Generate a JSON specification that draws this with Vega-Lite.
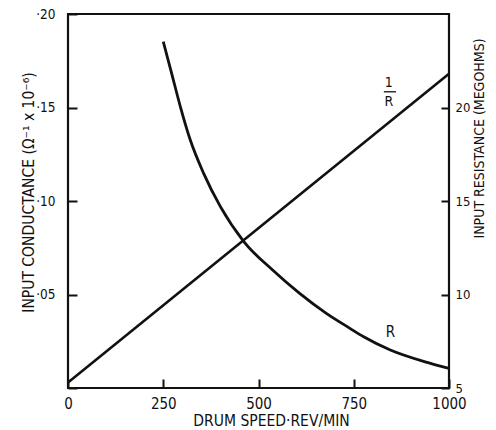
{
  "$schema": "https://vega.github.io/schema/vega-lite/v6.json",
  "width": 381,
  "height": 374,
  "autosize": {"type": "none"},
  "padding": {"left": 68, "top": 14, "right": 47, "bottom": 42},
  "background": "white",
  "config": {
    "view": {"stroke": "#111", "strokeWidth": 2.2},
    "font": "Liberation Sans Narrow, DejaVu Sans Condensed, sans-serif",
    "axis": {
      "grid": false,
      "domain": false,
      "labelColor": "#111",
      "titleColor": "#111",
      "labelFont": "Liberation Sans Narrow, DejaVu Sans Condensed, sans-serif",
      "titleFont": "Liberation Sans Narrow, DejaVu Sans Condensed, sans-serif",
      "labelFontSize": 14,
      "titleFontSize": 14,
      "titleFontWeight": "normal",
      "labelFlush": false,
      "labelOverlap": false
    }
  },
  "datasets": {
    "conductance": [
      {"speed": 0, "g": 0.003},
      {"speed": 1000, "g": 0.168}
    ],
    "resistance": [
      {"speed": 250, "r": 23.52},
      {"speed": 272, "r": 21.83},
      {"speed": 295, "r": 20.04},
      {"speed": 321, "r": 18.26},
      {"speed": 356, "r": 16.48},
      {"speed": 400, "r": 14.7},
      {"speed": 462, "r": 12.82},
      {"speed": 537, "r": 11.31},
      {"speed": 608, "r": 10.06},
      {"speed": 678, "r": 8.99},
      {"speed": 740, "r": 8.19},
      {"speed": 776, "r": 7.74},
      {"speed": 846, "r": 7.03},
      {"speed": 935, "r": 6.41},
      {"speed": 1000, "r": 6.05}
    ],
    "gLabels": [
      {"speed": 842, "g": 0.1631, "t": "1"},
      {"speed": 842, "g": 0.1532, "t": "R"}
    ],
    "gBar": [
      {"speed": 829, "speed2": 861, "g": 0.1584}
    ],
    "rLabels": [
      {"speed": 846, "r": 8.01, "t": "R"}
    ]
  },
  "encoding": {
    "x": {
      "field": "speed",
      "type": "quantitative",
      "scale": {"domain": [0, 1000], "nice": false, "zero": false},
      "axis": {
        "values": [0, 250, 500, 750, 1000],
        "format": "d",
        "title": "DRUM SPEED·REV/MIN",
        "ticks": true,
        "tickSize": 9,
        "offset": -9,
        "tickColor": "#111",
        "tickWidth": 2,
        "zindex": 1,
        "labelFontSize": 15,
        "titleFontSize": 15.5,
        "labelPadding": 8,
        "titlePadding": 2,
        "titleX": 203,
        "encode": {"labels": {"update": {"dx": {"signal": "datum.value == 0 ? -10 : 0"}}}}
      }
    }
  },
  "layer": [
    {
      "encoding": {
        "y": {
          "field": "g",
          "type": "quantitative",
          "scale": {"domain": [0, 0.2], "nice": false, "zero": false},
          "axis": {
            "orient": "left",
            "values": [0, 0.05, 0.1, 0.15, 0.2],
            "labelExpr": "datum.value == 0 ? '' : replace(format(datum.value, '.2f'), '0.', '·')",
            "title": "INPUT CONDUCTANCE (Ω⁻¹ x 10⁻⁶)",
            "ticks": true,
            "tickSize": 9,
            "offset": -9,
            "tickColor": "#111",
            "tickWidth": 2,
            "zindex": 1,
            "labelFontSize": 13.5,
            "labelPadding": 13,
            "titleFontSize": 15.5,
            "titlePadding": -1,
            "titleY": 178
          }
        }
      },
      "layer": [
        {
          "data": {"name": "conductance"},
          "mark": {"type": "line", "color": "#111", "strokeWidth": 2.6}
        },
        {
          "data": {"name": "gLabels"},
          "mark": {"type": "text", "color": "#111", "fontSize": 14, "baseline": "middle", "align": "center", "font": "Liberation Sans Narrow, DejaVu Sans Condensed, sans-serif"},
          "encoding": {"text": {"field": "t"}}
        },
        {
          "data": {"name": "gBar"},
          "mark": {"type": "rule", "color": "#111", "strokeWidth": 1.3},
          "encoding": {"x2": {"field": "speed2"}}
        }
      ]
    },
    {
      "encoding": {
        "y": {
          "field": "r",
          "type": "quantitative",
          "scale": {"domain": [5, 25], "nice": false, "zero": false},
          "axis": {
            "orient": "right",
            "values": [5, 10, 15, 20],
            "title": "INPUT RESISTANCE (MEGOHMS)",
            "ticks": true,
            "tickSize": 8,
            "offset": -8,
            "tickColor": "#111",
            "tickWidth": 2,
            "zindex": 1,
            "titleAngle": 270,
            "titleBaseline": "top",
            "labelFontSize": 13,
            "labelPadding": 6,
            "titleFontSize": 14,
            "titlePadding": 3,
            "titleY": 124
          }
        }
      },
      "layer": [
        {
          "data": {"name": "resistance"},
          "mark": {"type": "line", "color": "#111", "strokeWidth": 2.8, "interpolate": "monotone"}
        },
        {
          "data": {"name": "rLabels"},
          "mark": {"type": "text", "color": "#111", "fontSize": 15, "baseline": "middle", "align": "center", "font": "Liberation Sans Narrow, DejaVu Sans Condensed, sans-serif"},
          "encoding": {"text": {"field": "t"}}
        }
      ]
    }
  ],
  "resolve": {"scale": {"y": "independent"}}
}
